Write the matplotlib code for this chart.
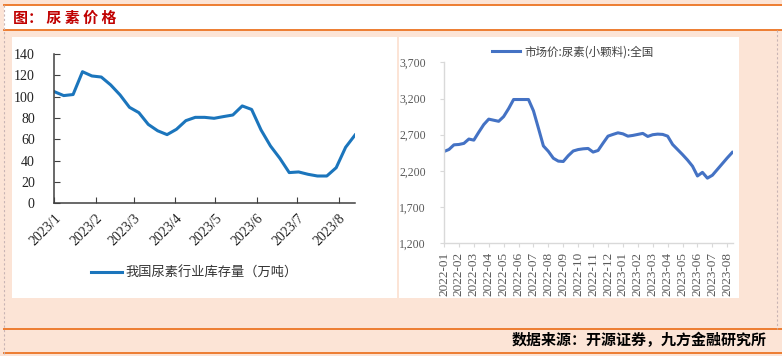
import matplotlib
matplotlib.use("Agg")
import matplotlib.pyplot as plt
import numpy as np
import pandas as pd
from matplotlib.patches import Rectangle
from matplotlib.lines import Line2D

plt.rcParams['font.family'] = ['Liberation Serif', 'Noto Sans CJK SC', 'DejaVu Sans']

# ---------------- data ----------------
inv_start = '2023-01-01'
inventory = [104.7, 101, 102, 123.4, 119.4, 118.4, 111, 101.6, 90, 85, 74, 68, 64.4,
             69.4, 77.5, 80.6, 80.6, 79.7, 81.3, 82.8, 91.3, 88, 68.8, 53.8, 42.2,
             28.8, 29.4, 27.2, 25.6, 25.6, 33.4, 52.5, 64]
inv_label = '我国尿素行业库存量（万吨）'
inv_ticks = ['2023/1', '2023/2', '2023/3', '2023/4', '2023/5', '2023/6', '2023/7', '2023/8']

price = [2468, 2496, 2560, 2565, 2580, 2640, 2625, 2735, 2840, 2915, 2900, 2885, 2950,
         3060, 3186, 3186, 3186, 3186, 3030, 2790, 2545, 2470, 2375, 2335, 2330, 2410,
         2475, 2495, 2505, 2510, 2460, 2482, 2583, 2680, 2704, 2726, 2712, 2680, 2690,
         2704, 2718, 2676, 2700, 2708, 2704, 2680, 2565, 2495, 2425, 2350, 2265, 2130,
         2180, 2100, 2140, 2220, 2300, 2380, 2455]
price_label = '市场价:尿素(小颗料):全国'
price_months = ['2022-01', '2022-02', '2022-03', '2022-04', '2022-05', '2022-06', '2022-07',
                '2022-08', '2022-09', '2022-10', '2022-11', '2022-12', '2023-01', '2023-02',
                '2023-03', '2023-04', '2023-05', '2023-06', '2023-07', '2023-08']
price_yticks = [1200, 1700, 2200, 2700, 3200, 3700]

title_text = '图： 尿 素 价 格'
source_text = '数据来源：开源证券，九方金融研究所'

# ---------------- figure ----------------
W, H = 782, 356
fig = plt.figure(figsize=(W / 100, H / 100), dpi=100)
peach = '#fce4d6'
orange = '#ed7d31'
fig.patch.set_facecolor(peach)


def rect(x0, y0, x1, y1, color, z=-10):
    fig.patches.append(Rectangle((x0 / W, 1 - y1 / H), (x1 - x0) / W, (y1 - y0) / H,
                                 transform=fig.transFigure, facecolor=color,
                                 edgecolor='none', zorder=z))


def hline(y, x0, x1, color, lw=1.5, ls='-'):
    fig.lines.append(Line2D([x0 / W, x1 / W], [1 - y / H, 1 - y / H], transform=fig.transFigure,
                            color=color, lw=lw, ls=ls, zorder=-5))


def vline(x, y0, y1, color, lw=1.0, ls='-'):
    fig.lines.append(Line2D([x / W, x / W], [1 - y0 / H, 1 - y1 / H], transform=fig.transFigure,
                            color=color, lw=lw, ls=ls, zorder=-5))


# title bar
rect(4, 5, W, 30, 'white')
hline(5, 4, W, orange, 1.4)
hline(30, 4, W, orange, 1.4)
# panels
rect(12, 37, 397, 298, 'white')
rect(399, 37, 739, 298, 'white')
# bottom lines
hline(329, 4, W, orange, 1.4)
hline(353, 4, W, orange, 1.4)
vline(4, 5, H, '#c8b4b4', 0.8, (0, (2, 2)))
vline(777, 30, 329, '#c8b4b4', 0.8, (0, (2, 2)))

fig.text(13 / W, 1 - 17.5 / H, title_text, color='#c00000', fontsize=10.8, fontweight='bold',
         family=['Noto Sans CJK SC'], ha='left', va='center')
fig.text(767 / W, 1 - 340 / H, source_text, color='black', fontsize=10.8, fontweight='bold',
         family=['Noto Sans CJK SC'], ha='right', va='center')

# ---------------- left chart ----------------
axL = fig.add_axes([54.3 / W, 1 - 203.3 / H, (355 - 54.3) / W, (203.3 - 54) / H])
axL.set_facecolor('none')
dates = pd.date_range(inv_start, periods=len(inventory), freq='7D')
axL.plot(dates, inventory, color='#1b75bc', lw=2.2, label=inv_label)
axL.set_xlim(dates[0], dates[-1])
axL.set_ylim(0, 140)
axL.set_yticks(np.arange(0, 141, 20))
tick_dates = pd.date_range(inv_start, periods=len(inv_ticks), freq='MS')
axL.set_xticks(tick_dates)
axL.set_xticklabels(inv_ticks, rotation=45, ha='right', va='top', rotation_mode='anchor')
for s in ['top', 'right']:
    axL.spines[s].set_visible(False)
for s in ['left', 'bottom']:
    axL.spines[s].set_color('#404040')
    axL.spines[s].set_linewidth(1.1)
axL.tick_params(direction='in', length=4, color='#404040', labelsize=10, labelcolor='#222222')
axL.tick_params(axis='x', pad=6)
axL.tick_params(axis='y', pad=14)
axL.legend(loc='center', bbox_to_anchor=(194 / W, 1 - 272.7 / H), bbox_transform=fig.transFigure,
           frameon=False, prop={'family': ['Noto Sans CJK SC'], 'size': 9.5},
           handlelength=2.4, handletextpad=0.2, labelcolor='#333333')

# ---------------- right chart ----------------
axR = fig.add_axes([444 / W, 1 - 243.3 / H, (733 - 444) / W, (243.3 - 62.3) / H])
axR.set_facecolor('none')
xr = np.arange(len(price)) / 3.0
axR.plot(xr, price, color='#4472c4', lw=2.2, label=price_label)
axR.set_xlim(0, (len(price) - 1) / 3.0 + 0.05)
axR.set_ylim(1200, 3700)
axR.set_yticks(price_yticks)
axR.set_yticklabels([f'{v:,}' for v in price_yticks])
axR.set_xticks(np.arange(len(price_months)))
axR.set_xticklabels(price_months, rotation=90)
for s in ['top', 'right']:
    axR.spines[s].set_visible(False)
for s in ['left', 'bottom']:
    axR.spines[s].set_color('#d9d9d9')
    axR.spines[s].set_linewidth(1.0)
axR.tick_params(direction='out', length=3, color='#d9d9d9', labelcolor='#595959')
axR.tick_params(axis='y', labelsize=8.5, pad=10)
axR.tick_params(axis='x', labelsize=9.5, pad=3)
axR.legend(loc='center', bbox_to_anchor=(573 / W, 1 - 51.7 / H), bbox_transform=fig.transFigure,
           frameon=False, prop={'family': ['Noto Sans CJK SC'], 'size': 8.3},
           handlelength=2.4, handletextpad=0.4, labelcolor='#404040')

fig.savefig('out.png', dpi=100, facecolor=fig.get_facecolor())
